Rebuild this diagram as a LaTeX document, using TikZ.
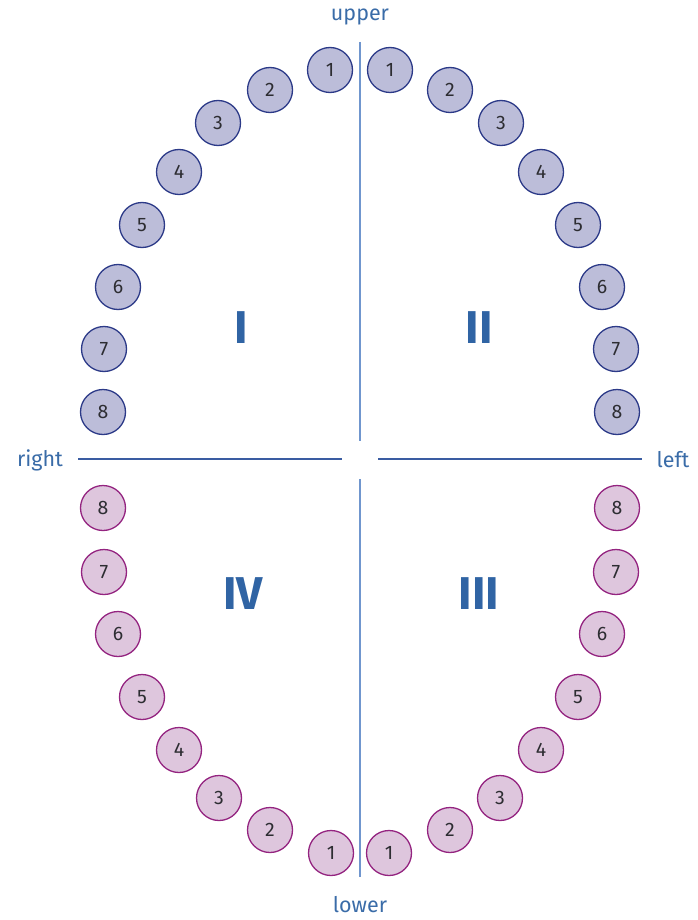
\documentclass[tikz,border=0pt]{standalone}
\usepackage{fontspec}
\setmainfont{Fira Sans}
\usepackage{tikz}
\usetikzlibrary{positioning}
\definecolor{cUpFill}{RGB}{188,189,217}
\definecolor{cUpLine}{RGB}{44,58,136}
\definecolor{cLoFill}{RGB}{222,198,221}
\definecolor{cLoLine}{RGB}{148,36,128}
\definecolor{cLabel}{RGB}{58,108,168}
\definecolor{cQuad}{RGB}{48,100,164}
\definecolor{cAxisV}{RGB}{112,150,206}
\definecolor{cAxisH}{RGB}{58,92,162}
\definecolor{cNum}{RGB}{45,45,50}
\tikzset{
  basetooth/.style={circle,minimum size=45pt,inner sep=0pt,line width=1.3pt,
                    text=cNum,font=\fontsize{19.5}{19.5}\selectfont},
  uppertooth/.style={basetooth,draw=cUpLine,fill=cUpFill},
  lowertooth/.style={basetooth,draw=cLoLine,fill=cLoFill},
  sidelabel/.style={text=cLabel,inner sep=0pt,font=\fontsize{21.5}{21.5}\selectfont},
  quadlabel/.style={text=cQuad,inner sep=0pt,font=\bfseries\fontsize{46}{46}\selectfont},
  vaxis/.style={line width=2pt,color=cAxisV},
  haxis/.style={line width=1.5pt,color=cAxisH}
}

\begin{document}
\begin{tikzpicture}[x=1pt,y=-1pt]

  \useasboundingbox (0,0) rectangle (697,920);

  % upper jaw, quadrants I and II
  \foreach \n/\x/\y in {1/330/70, 2/270/90, 3/218/123, 4/179/172,
                        5/142/225, 6/118/287, 7/104/349, 8/103/412}
    \node[uppertooth] (qI\n) at (\x,\y) {\n};
  \foreach \n/\x/\y in {1/390/70, 2/450/90, 3/501/123, 4/541/172,
                        5/578/225, 6/602/287, 7/616/349, 8/617/412}
    \node[uppertooth] (qII\n) at (\x,\y) {\n};

  % lower jaw, quadrants III and IV
  \foreach \n/\x/\y in {1/389/853, 2/450/830, 3/500/798, 4/541/750,
                        5/578/697, 6/602/634, 7/616/572, 8/617/508}
    \node[lowertooth] (qIII\n) at (\x,\y) {\n};
  \foreach \n/\x/\y in {1/331/853, 2/270/830, 3/219/798, 4/179/750,
                        5/142/697, 6/118/634, 7/104/572, 8/103/508}
    \node[lowertooth] (qIV\n) at (\x,\y) {\n};

  % quadrant numbers
  \node[quadlabel] (quadI)   at (241,328) {I};
  \node[quadlabel] (quadII)  at (479,328) {II};
  \node[quadlabel] (quadIII) at (479,594) {III};
  \node[quadlabel] (quadIV)  at (243,594) {IV};

  % side labels
  \node[sidelabel] (upper) at (360,17)  {upper};
  \node[sidelabel] (lower) at (360,905) {lower};
  \node[sidelabel] (right) at (40,460)  {right};
  \node[sidelabel] (left)  at (673,460) {left};

  % axes
  \coordinate (vtop)  at (360,42);
  \coordinate (vmidA) at (360,441);
  \coordinate (vmidB) at (360,479);
  \coordinate (vbot)  at (360,877);
  \coordinate (hlft)  at (78,459);
  \coordinate (hmidA) at (342,459);
  \coordinate (hmidB) at (378,459);
  \coordinate (hrgt)  at (642,459);

  \draw[vaxis] (vtop) -- (vmidA);
  \draw[vaxis] (vmidB) -- (vbot);
  \draw[haxis] (hlft) -- (hmidA);
  \draw[haxis] (hmidB) -- (hrgt);

\end{tikzpicture}
\end{document}
